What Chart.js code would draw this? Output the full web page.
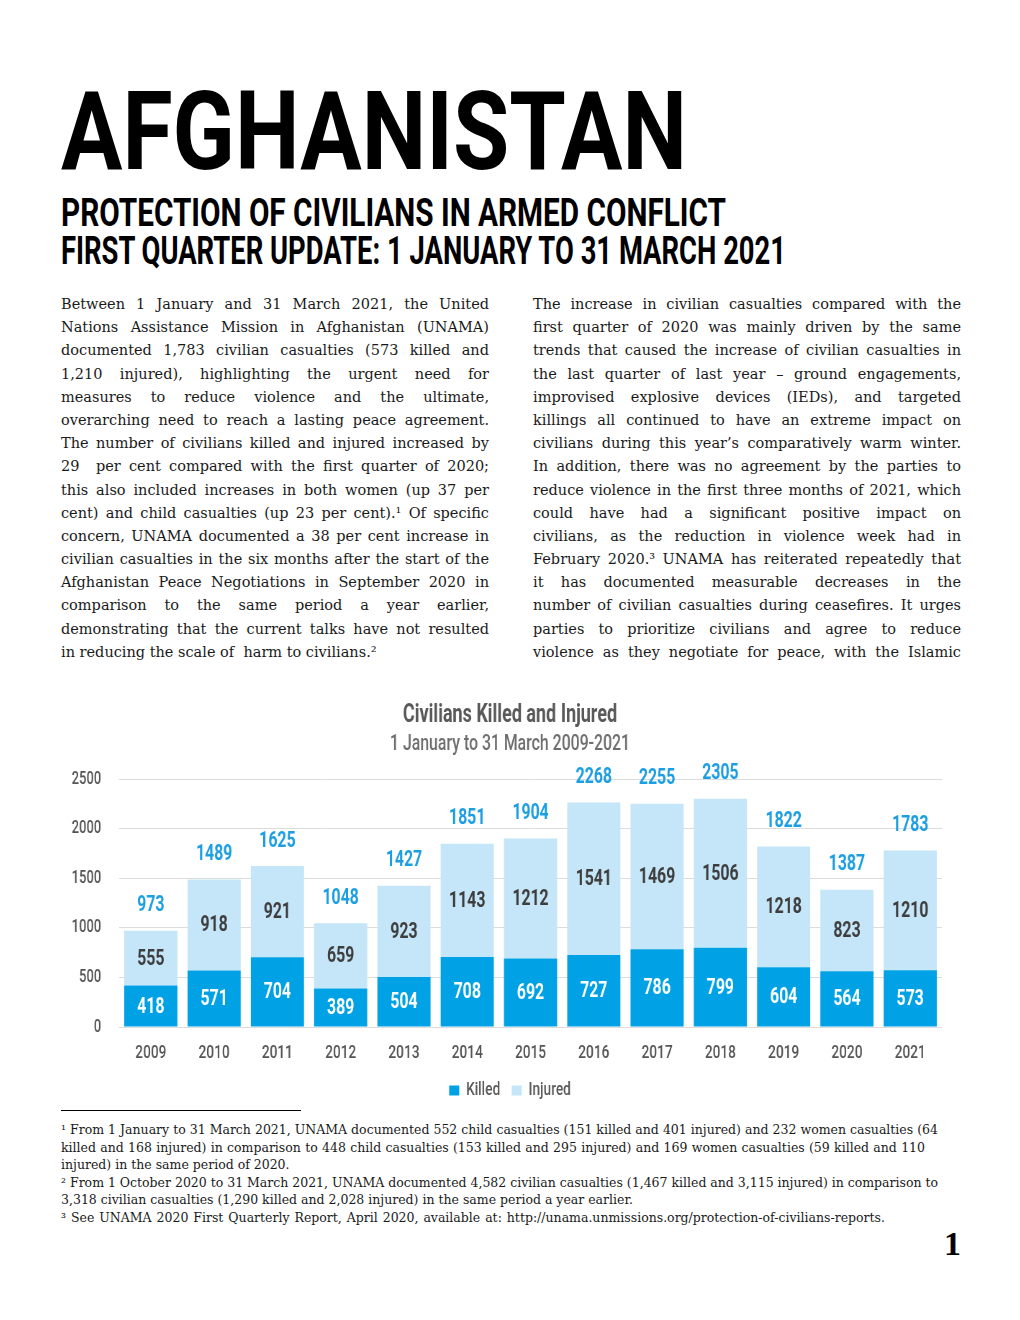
<!DOCTYPE html>
<html><head><meta charset="utf-8">
<script src="https://cdn.jsdelivr.net/npm/chart.js@4.4.1/dist/chart.umd.min.js"></script>
<style>
html,body{margin:0;padding:0;background:#fff;}
body{width:1020px;height:1320px;position:relative;overflow:hidden;font-family:"DejaVu Serif","Liberation Serif",serif;color:#1a1a1a;}
.hd{position:absolute;left:61px;white-space:nowrap;font-family:Roboto,"Liberation Sans",sans-serif;font-weight:bold;color:#000;transform-origin:0 0;line-height:1;}
#h1{top:77px;font-size:110px;}
#h2{top:194px;font-size:39px;}
#h3{top:232px;font-size:39px;}
.col{position:absolute;top:293px;width:428px;font-size:14.5px;line-height:23.2px;}
.col .ln{white-space:pre;height:23.2px;}
.col .ln span{display:inline-block;white-space:pre;}
#left{left:61px;}
#right{left:533px;}
#chartBox{position:absolute;left:40px;top:690px;width:940px;height:420px;}
#c{transform-origin:0 0;}
#sep{position:absolute;left:61px;top:1110px;width:240px;height:1px;background:#000;}
#notes{position:absolute;left:61px;top:1121px;width:900px;font-size:12.5px;line-height:17.6px;}
#notes .ln{white-space:pre;height:17.6px;}
#notes .ln span{display:inline-block;white-space:pre;}
#pg{position:absolute;left:944px;top:1227px;font-family:"Liberation Serif",serif;font-weight:bold;font-size:34px;line-height:1;color:#000;}
</style>
</head>
<body>
<div class="hd" id="h1">AFGHANISTAN</div>
<div class="hd" id="h2">PROTECTION OF CIVILIANS IN ARMED CONFLICT</div>
<div class="hd" id="h3">FIRST QUARTER UPDATE: 1 JANUARY TO 31 MARCH 2021</div>
<div class="col" id="left"></div>
<div class="col" id="right"></div>
<div id="chartBox"><canvas id="c"></canvas></div>
<div id="sep"></div>
<div id="notes"></div>
<div id="pg">1</div>
<script>
// ---- chart data ----
const years = ['2009','2010','2011','2012','2013','2014','2015','2016','2017','2018','2019','2020','2021'];
const killed = [418,571,704,389,504,708,692,727,786,799,604,564,573];
const injured = [555,918,921,659,923,1143,1212,1541,1469,1506,1218,823,1210];
const totals = [973,1489,1625,1048,1427,1851,1904,2268,2255,2305,1822,1387,1783];
const yTickValues = [0,500,1000,1500,2000,2500];
const seriesNames = ['Killed','Injured'];
const chartTitle = 'Civilians Killed and Injured';
const chartSubtitle = '1 January to 31 March 2009-2021';

// ---- page text ----
const leftLines = [
"Between 1 January and 31 March 2021, the United",
"Nations Assistance Mission in Afghanistan (UNAMA)",
"documented 1,783 civilian casualties (573 killed and",
"1,210 injured), highlighting the urgent need for",
"measures to reduce violence and the ultimate,",
"overarching need to reach a lasting peace agreement.",
"The number of civilians killed and injured increased by",
"29  per cent compared with the first quarter of 2020;",
"this also included increases in both women (up 37 per",
"cent) and child casualties (up 23 per cent).¹ Of specific",
"concern, UNAMA documented a 38 per cent increase in",
"civilian casualties in the six months after the start of the",
"Afghanistan Peace Negotiations in September 2020 in",
"comparison to the same period a year earlier,",
"demonstrating that the current talks have not resulted",
"in reducing the scale of  harm to civilians.²"];
const rightLines = [
"The increase in civilian casualties compared with the",
"first quarter of 2020 was mainly driven by the same",
"trends that caused the increase of civilian casualties in",
"the last quarter of last year – ground engagements,",
"improvised explosive devices (IEDs), and targeted",
"killings all continued to have an extreme impact on",
"civilians during this year’s comparatively warm winter.",
"In addition, there was no agreement by the parties to",
"reduce violence in the first three months of 2021, which",
"could have had a significant positive impact on",
"civilians, as the reduction in violence week had in",
"February 2020.³ UNAMA has reiterated repeatedly that",
"it has documented measurable decreases in the",
"number of civilian casualties during ceasefires. It urges",
"parties to prioritize civilians and agree to reduce",
"violence as they negotiate for peace, with the Islamic"];
const noteLines = [
["¹ From 1 January to 31 March 2021, UNAMA documented 552 child casualties (151 killed and 401 injured) and 232 women casualties (64", 877],
["killed and 168 injured) in comparison to 448 child casualties (153 killed and 295 injured) and 169 women casualties (59 killed and 110", 864],
["injured) in the same period of 2020.", 0],
["² From 1 October 2020 to 31 March 2021, UNAMA documented 4,582 civilian casualties (1,467 killed and 3,115 injured) in comparison to", 877],
["3,318 civilian casualties (1,290 killed and 2,028 injured) in the same period a year earlier.", 0],
["³ See UNAMA 2020 First Quarterly Report, April 2020, available at: http://unama.unmissions.org/protection-of-civilians-reports.", 824]];

function addLine(container,t,w){
  const d=document.createElement('div');d.className='ln';
  const s=document.createElement('span');s.textContent=t;d.appendChild(s);container.appendChild(d);
  if(w){const nat=s.getBoundingClientRect().width;const n=(t.match(/ /g)||[]).length;if(n)s.style.wordSpacing=((w-nat)/n)+'px';}
}
leftLines.forEach((t,i)=>addLine(document.getElementById('left'),t,i===leftLines.length-1?0:428));
rightLines.forEach((t)=>addLine(document.getElementById('right'),t,428));
noteLines.forEach(([t,w])=>addLine(document.getElementById('notes'),t,w));
function fitHead(id,w){const e=document.getElementById(id);const nat=e.getBoundingClientRect().width;e.style.transform='scaleX('+(w/nat)+')';}
fitHead('h1',626);fitHead('h2',665);fitHead('h3',725);

// ---- chart (drawn wide, then condensed horizontally) ----
const SX=0.72;
const CW=Math.round(940/SX), CH=420;
const canvas=document.getElementById('c');
canvas.width=CW;canvas.height=CH;
canvas.style.transform='scaleX('+(940/CW)+')';
const CF='Roboto,"Liberation Sans",sans-serif';
const labelPlugin={
  id:'barLabels',
  afterDatasetsDraw(chart){
    const ctx=chart.ctx;
    const mk=chart.getDatasetMeta(0), mi=chart.getDatasetMeta(1);
    const ys=chart.scales.y;
    ctx.save();
    ctx.textAlign='center';ctx.textBaseline='middle';
    ctx.font='bold 22px '+CF;
    mk.data.forEach((b,i)=>{
      ctx.fillStyle='#ffffff';
      ctx.fillText(String(killed[i]), b.x, (b.y+b.base)/2+1);
      const bi=mi.data[i];
      ctx.fillStyle='#3d3d3d';
      ctx.fillText(String(injured[i]), bi.x, (bi.y+bi.base)/2+1);
      ctx.fillStyle='#1b9ee2';
      ctx.fillText(String(totals[i]), b.x, ys.getPixelForValue(totals[i])-25);
    });
    ctx.restore();
  }
};
new Chart(canvas,{
  type:'bar',
  data:{labels:years,datasets:[
    {label:seriesNames[0],data:killed,backgroundColor:'#00a2e5',borderWidth:0,barPercentage:0.84,categoryPercentage:1,yAxisID:'y'},
    {label:seriesNames[1],data:injured,backgroundColor:'#c5e6f8',borderWidth:0,barPercentage:0.84,categoryPercentage:1,yAxisID:'y'}
  ]},
  options:{
    responsive:false,animation:false,devicePixelRatio:1,
    layout:{padding:0},
    plugins:{
      title:{display:true,text:chartTitle,color:'#595959',font:{family:CF,size:25,weight:'bold'},padding:{top:11,bottom:0}},
      subtitle:{display:true,text:chartSubtitle,color:'#6e6e6e',font:{family:CF,size:22,weight:'500'},padding:{top:0,bottom:22}},
      legend:{position:'bottom',labels:{boxWidth:14,boxHeight:10,color:'#595959',font:{family:CF,size:19,weight:'500'},padding:16}},
      tooltip:{enabled:false}
    },
    scales:{
      x:{stacked:true,grid:{display:false,drawTicks:false},border:{display:false},
         ticks:{color:'#555',font:{family:CF,size:19,weight:'500'},padding:15},
         afterFit:(s)=>{s.height=38;}},
      y:{stacked:true,min:0,max:2500,position:'left',
         afterBuildTicks:(s)=>{s.ticks=yTickValues.map(v=>({value:v}));},
         afterFit:(s)=>{s.width=110;},
         grid:{color:'#dcdcdc',drawTicks:false},border:{display:false},
         ticks:{color:'#555',font:{family:CF,size:18,weight:'500'},padding:25,callback:(v)=>String(v)}},
      yR:{type:'linear',position:'right',display:true,
         grid:{display:false,drawTicks:false},border:{display:false},ticks:{display:false},
         afterFit:(s)=>{s.width=53;}}
    }
  },
  plugins:[labelPlugin]
});
</script>
</body></html>
